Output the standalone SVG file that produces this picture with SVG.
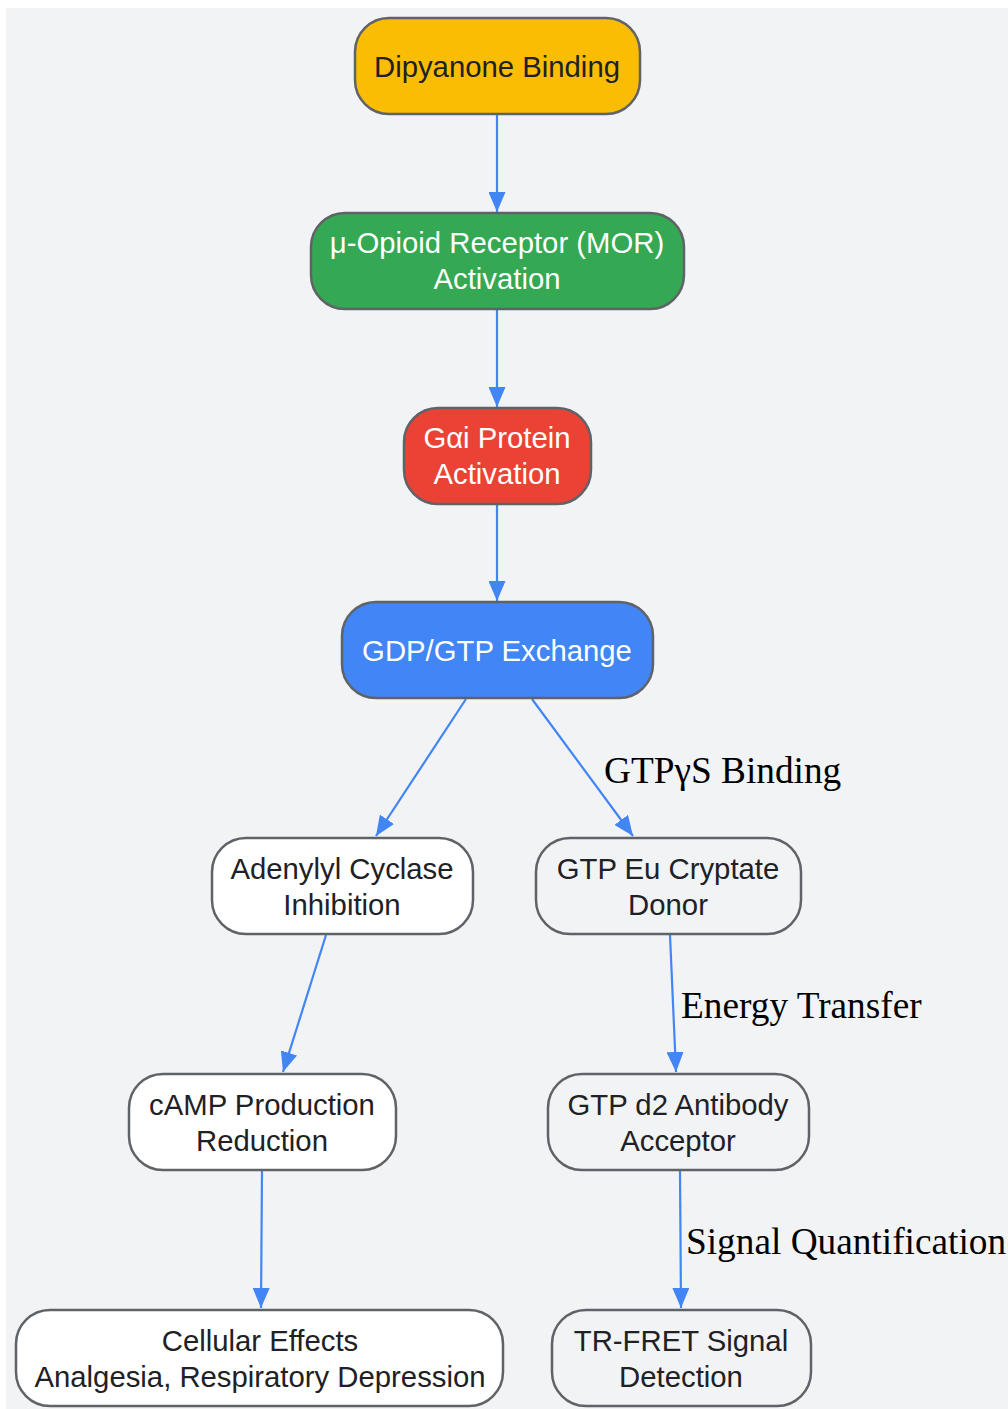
<svg xmlns="http://www.w3.org/2000/svg" width="1008" height="1409" viewBox="0 0 1008 1409">
<style>
.n rect{stroke:#5f6368;stroke-width:2.5}
.t{font-family:"Liberation Sans",Arial,sans-serif;font-size:29.3px;text-anchor:middle;fill:#202124}
.w{fill:#ffffff}
.e{stroke:#4285f4;stroke-width:2.2;fill:none;marker-end:url(#ah)}
.l{font-family:"Liberation Serif","Times New Roman",serif;font-size:37.3px;fill:#000}
</style>
<defs>
<marker id="ah" viewBox="0 0 20 17" refX="20" refY="8.5" markerWidth="20" markerHeight="17" markerUnits="userSpaceOnUse" orient="auto">
<path d="M0,0 L20,8.5 L0,17 z" fill="#4285f4"/>
</marker>
</defs>
<rect x="0" y="0" width="1008" height="1409" fill="#ffffff"/>
<rect x="6" y="8" width="1002" height="1401" fill="#f1f3f5"/>
<g id="connectors">
<line class="e" x1="497" y1="115" x2="497" y2="212"/>
<line class="e" x1="497" y1="310" x2="497" y2="407"/>
<line class="e" x1="497" y1="505" x2="497" y2="601"/>
<line class="e" x1="466" y1="699" x2="376" y2="836"/>
<line class="e" x1="532" y1="699" x2="633" y2="836"/>
<line class="e" x1="670" y1="935" x2="676" y2="1072"/>
<line class="e" x1="326" y1="935" x2="283" y2="1072"/>
<line class="e" x1="680" y1="1171" x2="681" y2="1308"/>
<line class="e" x1="262" y1="1171" x2="261" y2="1308"/>
<text class="l" x="604" y="783">GTPγS Binding</text>
<text class="l" x="681" y="1018">Energy Transfer</text>
<text class="l" x="686" y="1254">Signal Quantification</text>
</g>
<g id="dipyanone" class="n"><rect x="355" y="18" width="285" height="96" rx="34" fill="#fbbc04"/><text class="t" x="497" y="77">Dipyanone Binding</text></g>
<g id="mor" class="n"><rect x="311" y="213" width="373" height="96" rx="34" fill="#34a853"/><text class="t w" x="497" y="253">μ-Opioid Receptor (MOR)</text><text class="t w" x="497" y="289">Activation</text></g>
<g id="gai" class="n"><rect x="404" y="408" width="187" height="96" rx="34" fill="#ea4335"/><text class="t w" x="497" y="448">Gαi Protein</text><text class="t w" x="497" y="484">Activation</text></g>
<g id="gdpgtp" class="n"><rect x="342" y="602" width="311" height="96" rx="34" fill="#4285f4"/><text class="t w" x="497" y="661">GDP/GTP Exchange</text></g>
<g id="adenylyl" class="n"><rect x="212" y="838" width="261" height="96" rx="34" fill="#ffffff"/><text class="t" x="342" y="879">Adenylyl Cyclase</text><text class="t" x="342" y="915">Inhibition</text></g>
<g id="eu" class="n"><rect x="536" y="838" width="265" height="96" rx="34" fill="#f1f3f5"/><text class="t" x="668" y="879">GTP Eu Cryptate</text><text class="t" x="668" y="915">Donor</text></g>
<g id="camp" class="n"><rect x="129" y="1074" width="267" height="96" rx="34" fill="#ffffff"/><text class="t" x="262" y="1115">cAMP Production</text><text class="t" x="262" y="1151">Reduction</text></g>
<g id="d2" class="n"><rect x="548" y="1074" width="261" height="96" rx="34" fill="#f1f3f5"/><text class="t" x="678" y="1115">GTP d2 Antibody</text><text class="t" x="678" y="1151">Acceptor</text></g>
<g id="cellular" class="n"><rect x="16" y="1310" width="487" height="96" rx="34" fill="#ffffff"/><text class="t" x="260" y="1351">Cellular Effects</text><text class="t" x="260" y="1387">Analgesia, Respiratory Depression</text></g>
<g id="trfret" class="n"><rect x="552" y="1310" width="259" height="96" rx="34" fill="#f1f3f5"/><text class="t" x="681" y="1351">TR-FRET Signal</text><text class="t" x="681" y="1387">Detection</text></g>
</svg>
